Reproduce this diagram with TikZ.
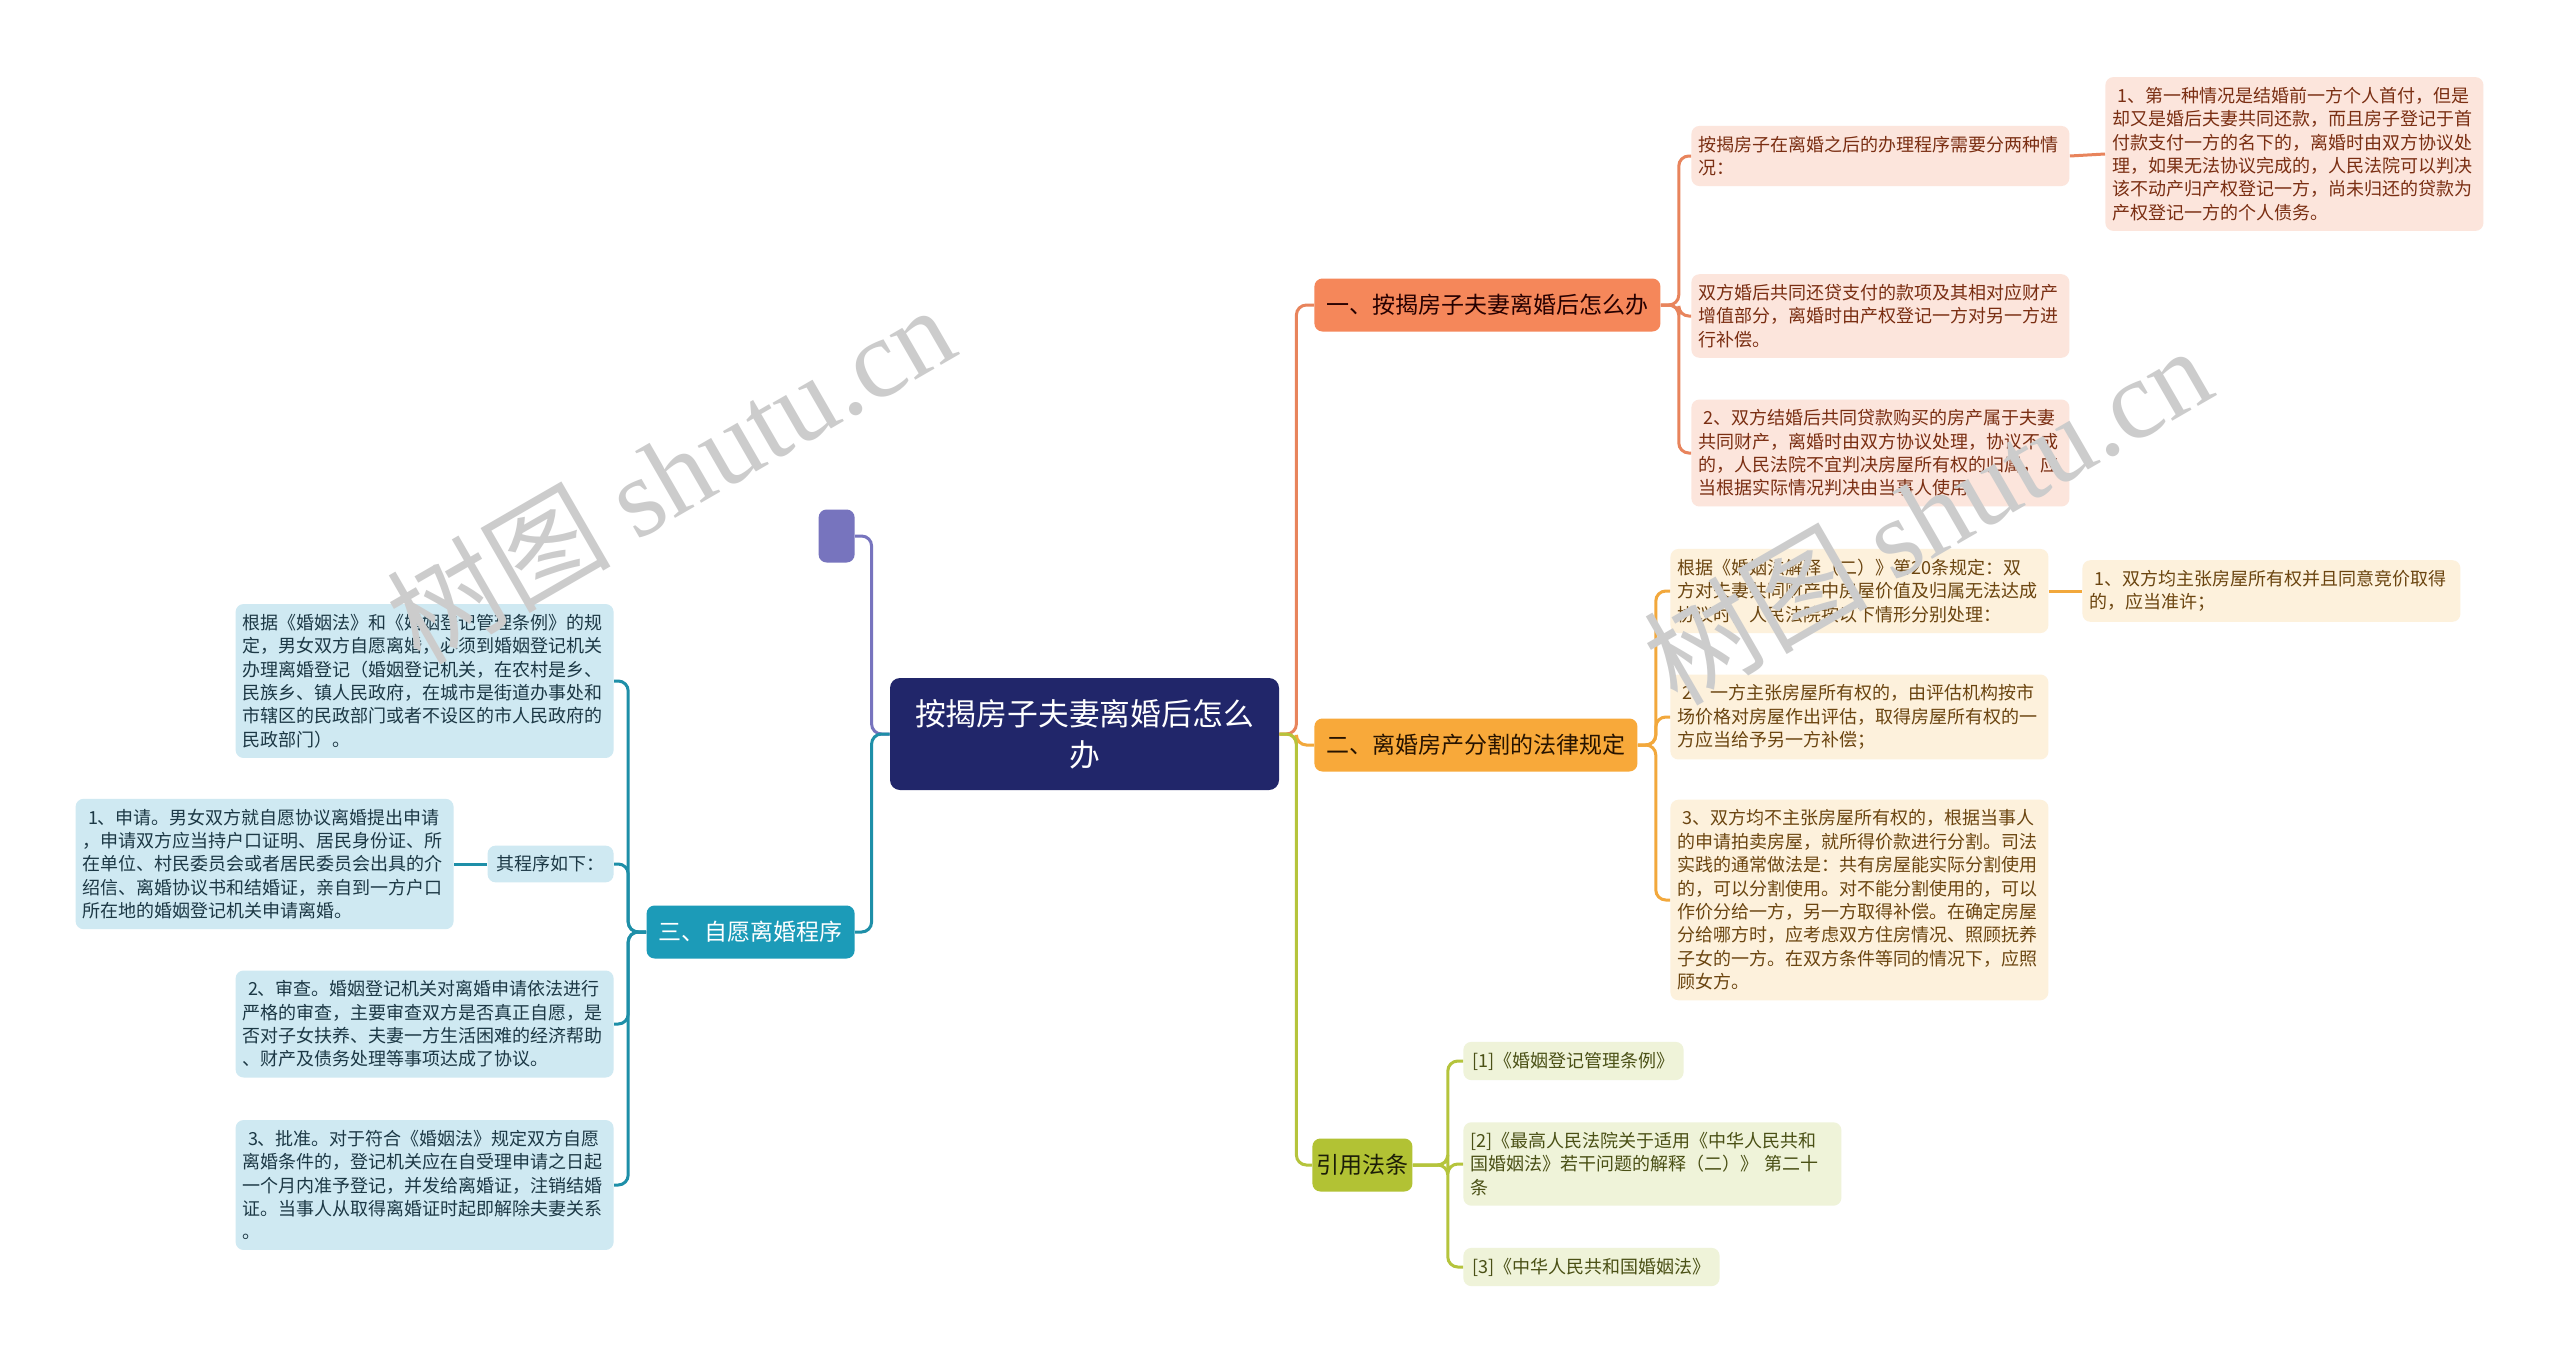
\documentclass[tikz,border=0pt]{standalone}
\usepackage{fontspec}
\setmainfont{Noto Sans CJK SC}
\newfontfamily\wmfont{Liberation Serif}
\usepackage{tikz}
\definecolor{navy}{RGB}{33, 38, 106}
\definecolor{coral}{RGB}{245, 135, 90}
\definecolor{coralline}{RGB}{232, 132, 92}
\definecolor{pinkbg}{RGB}{252, 229, 220}
\definecolor{rusttext}{RGB}{122, 46, 18}
\definecolor{amber}{RGB}{248, 169, 58}
\definecolor{amberline}{RGB}{242, 168, 60}
\definecolor{creambg}{RGB}{253, 241, 220}
\definecolor{browntext}{RGB}{107, 69, 16}
\definecolor{olive}{RGB}{178, 194, 52}
\definecolor{oliveline}{RGB}{181, 196, 60}
\definecolor{palebg}{RGB}{239, 243, 217}
\definecolor{olivetext}{RGB}{74, 80, 21}
\definecolor{teal}{RGB}{28, 155, 184}
\definecolor{tealline}{RGB}{30, 143, 168}
\definecolor{bluebg}{RGB}{207, 233, 242}
\definecolor{tealtext}{RGB}{28, 56, 69}
\definecolor{lilac}{RGB}{119, 116, 190}
\usetikzlibrary{positioning}

\begin{document}
\begin{tikzpicture}[scale=0.5,
  leaf/.style={rounded corners=4pt, inner xsep=3.5pt, inner ysep=5pt, text width=182pt, align=left, font=\fontsize{9pt}{11.7pt}\selectfont},
  tag/.style={rounded corners=4pt, inner xsep=4.5pt, inner ysep=5pt, align=left, font=\fontsize{9pt}{11.7pt}\selectfont},
  topic/.style={rounded corners=4pt, inner xsep=6pt, minimum height=26.5pt, font=\fontsize{11.5pt}{14pt}\selectfont},
  link/.style={line width=1.5pt, rounded corners=5pt},
  wmark/.style={text=black!20, rotate=30, font=\fontsize{56pt}{56pt}\selectfont}]
\useasboundingbox [fill=white] (0pt, 0pt) rectangle (2560pt, -1365pt);

% root
\node (root) [rounded corners=5pt, fill=navy, text=white, minimum width=194.5pt, minimum height=56pt, align=center, font=\fontsize{15.4pt}{20.5pt}\selectfont] at (1084.5pt, -734pt) {按揭房子夫妻离婚后怎么\\办};

% main topics
\node (t1) [topic, fill=coral, text=black!85!red, anchor=west] at (1314pt, -305pt) {一、按揭房子夫妻离婚后怎么办};
\node (t2) [topic, fill=amber, text=black!85!orange, anchor=west] at (1314pt, -745pt) {二、离婚房产分割的法律规定};
\node (t3) [topic, fill=olive, text=black!85!olive, inner xsep=2pt, anchor=west] at (1312pt, -1165pt) {引用法条};
\node (t4) [topic, fill=teal, text=white, anchor=east] at (855pt, -932pt) {三、自愿离婚程序};
\node (t5) [rounded corners=4pt, fill=lilac, minimum width=18pt, minimum height=26.5pt, anchor=east] at (855pt, -536pt) {};

% branch one
\node (a1) [leaf, fill=pinkbg, text=rusttext, anchor=west] at (1691pt, -156pt) {按揭房子在离婚之后的办理程序需要分两种情\\况：};
\node (a11) [leaf, fill=pinkbg, text=rusttext, anchor=west] at (2105pt, -154pt) {\hspace*{.3em}1、第一种情况是结婚前一方个人首付，但是\\却又是婚后夫妻共同还款，而且房子登记于首\\付款支付一方的名下的，离婚时由双方协议处\\理，如果无法协议完成的，人民法院可以判决\\该不动产归产权登记一方，尚未归还的贷款为\\产权登记一方的个人债务。};
\node (a2) [leaf, fill=pinkbg, text=rusttext, anchor=west] at (1691pt, -316pt) {双方婚后共同还贷支付的款项及其相对应财产\\增值部分，离婚时由产权登记一方对另一方进\\行补偿。};
\node (a3) [leaf, fill=pinkbg, text=rusttext, anchor=west] at (1691pt, -453pt) {\hspace*{.3em}2、双方结婚后共同贷款购买的房产属于夫妻\\共同财产，离婚时由双方协议处理，协议不成\\的，人民法院不宜判决房屋所有权的归属，应\\当根据实际情况判决由当事人使用。};

% branch two
\node (b1) [leaf, fill=creambg, text=browntext, anchor=west] at (1670pt, -591pt) {根据《婚姻法解释（二）》第20条规定：双\\方对夫妻共同财产中房屋价值及归属无法达成\\协议时，人民法院按以下情形分别处理：};
\node (b11) [leaf, fill=creambg, text=browntext, anchor=west] at (2082pt, -591pt) {\hspace*{.3em}1、双方均主张房屋所有权并且同意竞价取得\\的，应当准许；};
\node (b2) [leaf, fill=creambg, text=browntext, anchor=west] at (1670pt, -717pt) {\hspace*{.3em}2、一方主张房屋所有权的，由评估机构按市\\场价格对房屋作出评估，取得房屋所有权的一\\方应当给予另一方补偿；};
\node (b3) [leaf, fill=creambg, text=browntext, anchor=west] at (1670pt, -900pt) {\hspace*{.3em}3、双方均不主张房屋所有权的，根据当事人\\的申请拍卖房屋，就所得价款进行分割。司法\\实践的通常做法是：共有房屋能实际分割使用\\的，可以分割使用。对不能分割使用的，可以\\作价分给一方，另一方取得补偿。在确定房屋\\分给哪方时，应考虑双方住房情况、照顾抚养\\子女的一方。在双方条件等同的情况下，应照\\顾女方。};

% branch three
\node (c1) [tag, fill=palebg, text=olivetext, anchor=west] at (1463pt, -1061pt) {[1]《婚姻登记管理条例》};
\node (c2) [leaf, fill=palebg, text=olivetext, anchor=west] at (1463pt, -1164pt) {[2]《最高人民法院关于适用《中华人民共和\\国婚姻法》若干问题的解释（二）》 第二十\\条};
\node (c3) [tag, fill=palebg, text=olivetext, anchor=west] at (1463pt, -1267pt) {[3]《中华人民共和国婚姻法》};

% branch four
\node (d1) [leaf, fill=bluebg, text=tealtext, anchor=east] at (614pt, -681pt) {根据《婚姻法》和《婚姻登记管理条例》的规\\定，男女双方自愿离婚，必须到婚姻登记机关\\办理离婚登记（婚姻登记机关，在农村是乡、\\民族乡、镇人民政府，在城市是街道办事处和\\市辖区的民政部门或者不设区的市人民政府的\\民政部门）。};
\node (d2) [tag, fill=bluebg, text=tealtext, anchor=east] at (614pt, -864pt) {其程序如下：};
\node (d21) [leaf, fill=bluebg, text=tealtext, anchor=east] at (454pt, -864pt) {\hspace*{.3em}1、申请。男女双方就自愿协议离婚提出申请\\，申请双方应当持户口证明、居民身份证、所\\在单位、村民委员会或者居民委员会出具的介\\绍信、离婚协议书和结婚证，亲自到一方户口\\所在地的婚姻登记机关申请离婚。};
\node (d3) [leaf, fill=bluebg, text=tealtext, anchor=east] at (614pt, -1024pt) {\hspace*{.3em}2、审查。婚姻登记机关对离婚申请依法进行\\严格的审查，主要审查双方是否真正自愿，是\\否对子女扶养、夫妻一方生活困难的经济帮助\\、财产及债务处理等事项达成了协议。};
\node (d4) [leaf, fill=bluebg, text=tealtext, anchor=east] at (614pt, -1185pt) {\hspace*{.3em}3、批准。对于符合《婚姻法》规定双方自愿\\离婚条件的，登记机关应在自受理申请之日起\\一个月内准予登记，并发给离婚证，注销结婚\\证。当事人从取得离婚证时起即解除夫妻关系\\。};

% connectors
\draw [link, color=coralline] (root.east) -- ++(17pt, 0) |- (t1.west);
\draw [link, color=amberline] (root.east) -- ++(17pt, 0) |- (t2.west);
\draw [link, color=oliveline] (root.east) -- ++(17pt, 0) |- (t3.west);
\draw [link, color=lilac] (root.west) -- ++(-18pt, 0) |- (t5.east);
\draw [link, color=tealline] (root.west) -- ++(-18pt, 0) |- (t4.east);
\foreach \k in {a1, a2, a3}
  \draw [link, color=coralline] (t1.east) -- ++(18pt, 0) |- (\k.west);
\draw [link, color=coralline] (a1.east) -- (a11.west);
\foreach \k in {b1, b2, b3}
  \draw [link, color=amberline] (t2.east) -- ++(18pt, 0) |- (\k.west);
\draw [link, color=amberline] (b1.east) -- (b11.west);
\foreach \k in {c1, c2, c3}
  \draw [link, color=oliveline] (t3.east) -- ++(35pt, 0) |- (\k.west);
\foreach \k in {d1, d2, d3, d4}
  \draw [link, color=tealline] (t4.west) -- ++(-18pt, 0) |- (\k.east);
\draw [link, color=tealline] (d2.west) -- (d21.east);

% watermarks
\node (wm1) [wmark] at (670pt, -473pt) {树图 {\wmfont shutu.cn}};
\node (wm2) [wmark] at (1927pt, -514pt) {树图 {\wmfont shutu.cn}};
\end{tikzpicture}
\end{document}
